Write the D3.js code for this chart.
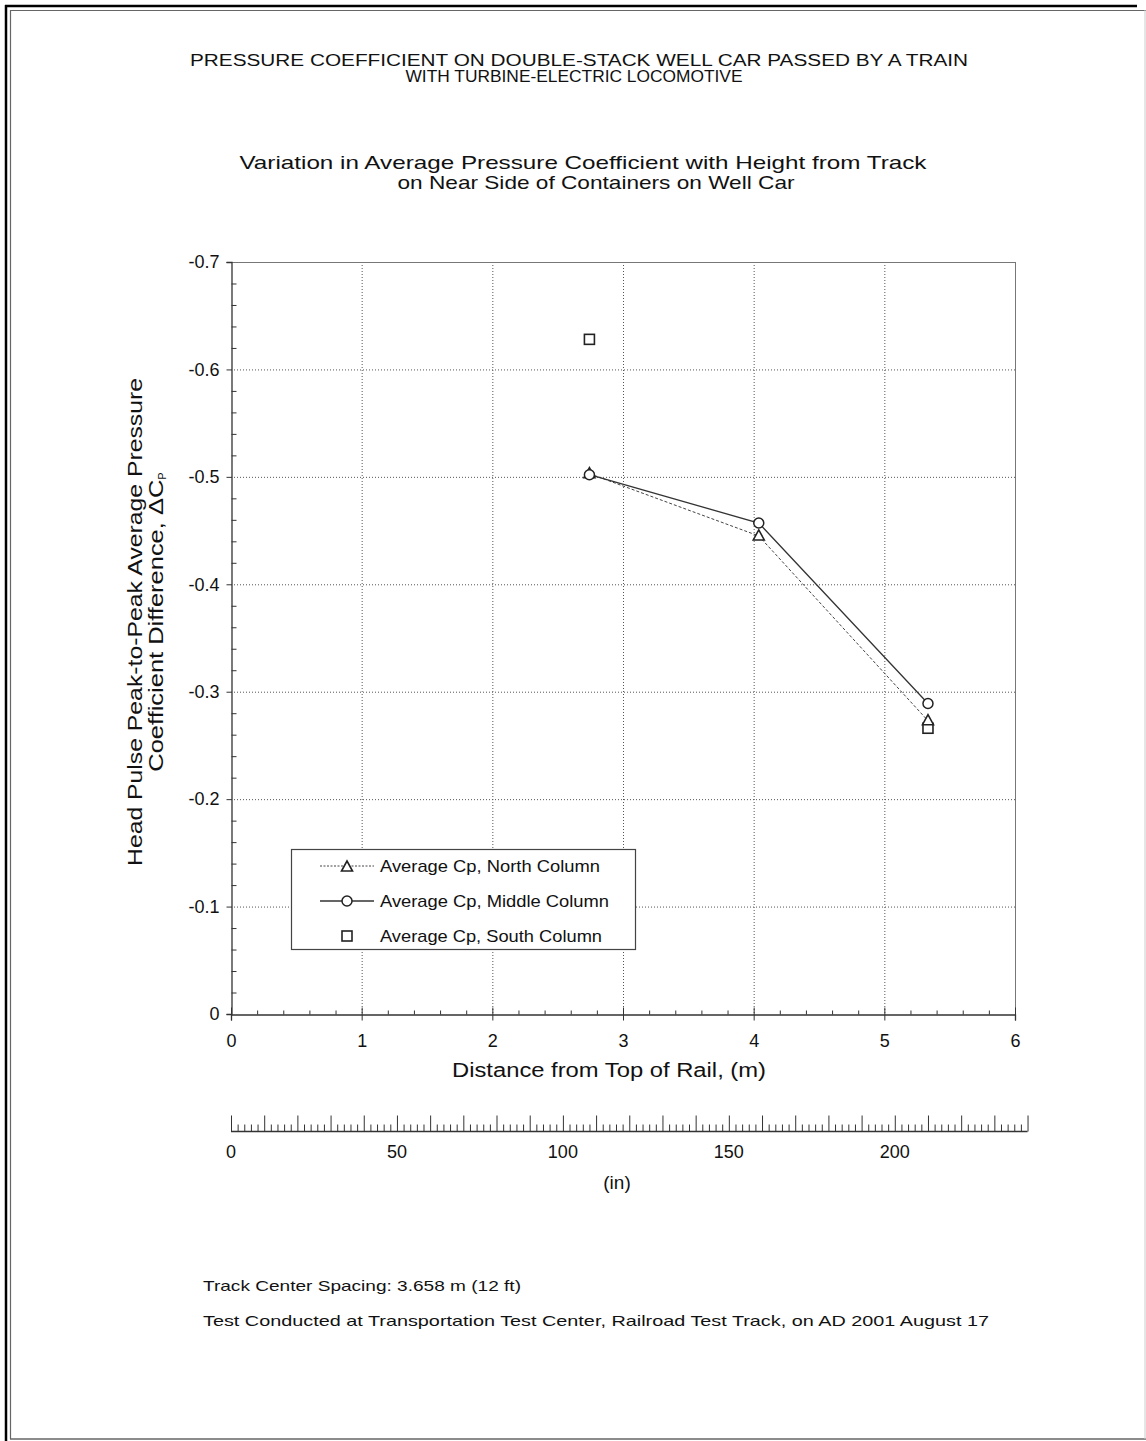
<!DOCTYPE html>
<html>
<head>
<meta charset="utf-8">
<script src="https://cdn.jsdelivr.net/npm/d3@7"></script>
<style>
  html, body { margin: 0; padding: 0; background: #fff; }
  svg { display: block; }
  text { font-family: Arial, "Liberation Sans", Helvetica, sans-serif; fill: #111; }
</style>
</head>
<body>
<svg id="chart" width="1146" height="1441"></svg>
<script>
// Heights of the measurement rows above top of rail (m)
const heights = [2.743, 4.039, 5.334];
// Average head-pulse peak-to-peak pressure coefficient difference per column
const northCp  = [-0.503, -0.445, -0.273];
const middleCp = [-0.502, -0.457, -0.289];
const southHeights = [2.743, 5.334];
const southCp  = [-0.628, -0.266];

const yTicks = [0, -0.1, -0.2, -0.3, -0.4, -0.5, -0.6, -0.7];
const xTicks = [0, 1, 2, 3, 4, 5, 6];
const inchLabels = [0, 50, 100, 150, 200];

const legendLabels = ["Average Cp, North Column", "Average Cp, Middle Column", "Average Cp, South Column"];
const legendWidths = [220, 229, 222];

const svg = d3.select("#chart");

// ---- page frame ----
const frame = svg.append("g");
frame.append("line").attr("x1", 5).attr("x2", 1137).attr("y1", 6).attr("y2", 6).attr("stroke", "#000").attr("stroke-width", 2.5);
frame.append("line").attr("x1", 6).attr("x2", 6).attr("y1", 5).attr("y2", 1441).attr("stroke", "#000").attr("stroke-width", 2.5);
frame.append("line").attr("x1", 10).attr("x2", 1146).attr("y1", 10.5).attr("y2", 10.5).attr("stroke", "#666").attr("stroke-width", 1.2);
frame.append("line").attr("x1", 10.5).attr("x2", 10.5).attr("y1", 10).attr("y2", 1439).attr("stroke", "#666").attr("stroke-width", 1.2);
frame.append("line").attr("x1", 10).attr("x2", 1146).attr("y1", 1439).attr("y2", 1439).attr("stroke", "#666").attr("stroke-width", 1.5);
frame.append("line").attr("x1", 1145).attr("x2", 1145).attr("y1", 10).attr("y2", 1439).attr("stroke", "#ccc").attr("stroke-width", 1);

// ---- titles ----
function fitText(g, str, x, y, size, len, anchor) {
  return g.append("text").attr("x", x).attr("y", y).attr("font-size", size)
    .attr("text-anchor", anchor || "middle")
    .attr("textLength", len).attr("lengthAdjust", "spacingAndGlyphs").text(str);
}
const titles = svg.append("g");
fitText(titles, "PRESSURE COEFFICIENT ON DOUBLE-STACK WELL CAR PASSED BY A TRAIN", 579, 66, 16, 778);
fitText(titles, "WITH TURBINE-ELECTRIC LOCOMOTIVE", 574, 82, 16, 337);
fitText(titles, "Variation in Average Pressure Coefficient with Height from Track", 583, 169, 19, 687);
fitText(titles, "on Near Side of Containers on Well Car", 596, 189, 19, 397);

// ---- scales ----
const x = d3.scaleLinear().domain([0, 6]).range([231, 1015]);
const y = d3.scaleLinear().domain([0, -0.7]).range([1014, 262]);
// inches share the metre scale: 1 in = 0.0254 m
const xIn = d3.scaleLinear().domain([0, 240]).range([x(0), x(240 * 0.0254)]);

const fmtY = d => d === 0 ? "0" : "-" + d3.format(".1f")(Math.abs(d));

// ---- grid ----
const grid = svg.append("g").attr("stroke", "#555").attr("stroke-width", 1).attr("stroke-dasharray", "1,2");
grid.selectAll("line.v").data(xTicks.filter(t => t > 0 && t < 6)).join("line")
  .attr("x1", d => x(d) + 0.5).attr("x2", d => x(d) + 0.5).attr("y1", y(-0.7)).attr("y2", y(0));
grid.selectAll("line.h").data(yTicks.filter(t => t < 0 && t > -0.7)).join("line")
  .attr("x1", x(0)).attr("x2", x(6)).attr("y1", d => y(d) + 0.5).attr("y2", d => y(d) + 0.5);

// frame lines on top and right
svg.append("line").attr("x1", x(0)).attr("x2", x(6)).attr("y1", y(-0.7) + 0.5).attr("y2", y(-0.7) + 0.5).attr("stroke", "#777");
svg.append("line").attr("x1", x(6) + 0.5).attr("x2", x(6) + 0.5).attr("y1", y(-0.7)).attr("y2", y(0)).attr("stroke", "#777");

// ---- y axis ----
const yMinor = d3.range(0, 36).map(i => -i * 0.02).filter(v => Math.round(v * 100) % 10 !== 0);
const yAxisG = svg.append("g").attr("transform", `translate(${x(0) + 0.5},0)`)
  .call(d3.axisLeft(y).tickValues(yTicks).tickFormat(fmtY).tickSize(5).tickPadding(7));
yAxisG.select(".domain").attr("stroke", "#333").attr("stroke-width", 1.3);
yAxisG.selectAll(".tick line").attr("stroke", "#333");
yAxisG.selectAll(".tick text").attr("font-size", 18).attr("font-family", "Arial, 'Liberation Sans', sans-serif").attr("fill", "#111");
svg.append("g").attr("transform", `translate(${x(0) + 0.5},0)`)
  .call(d3.axisRight(y).tickValues(yMinor).tickFormat("").tickSize(5))
  .call(g => g.select(".domain").remove())
  .selectAll(".tick line").attr("stroke", "#333");

// ---- x axis (m) ----
const xMinor = d3.range(0, 31).map(i => i * 0.2).filter(v => Math.abs(v - Math.round(v)) > 1e-6);
const xAxisG = svg.append("g").attr("transform", `translate(0,${y(0) + 0.5})`)
  .call(d3.axisBottom(x).tickValues(xTicks).tickFormat(d3.format("d")).tickSize(6).tickPadding(14));
xAxisG.select(".domain").attr("stroke", "#333").attr("stroke-width", 1.3);
xAxisG.selectAll(".tick line").attr("stroke", "#333").attr("y1", -7);
xAxisG.selectAll(".tick text").attr("font-size", 18).attr("font-family", "Arial, 'Liberation Sans', sans-serif").attr("fill", "#111");
svg.append("g").attr("transform", `translate(0,${y(0) + 0.5})`)
  .call(d3.axisTop(x).tickValues(xMinor).tickFormat("").tickSize(4))
  .call(g => g.select(".domain").remove())
  .selectAll(".tick line").attr("stroke", "#333");

fitText(svg, "Distance from Top of Rail, (m)", 609, 1077, 20, 314);

// ---- secondary axis (in) ----
const inMinor = d3.range(0, 241, 2).filter(v => v % 10 !== 0);
const inMajor = d3.range(0, 241, 10);
const inY = 1131.5;
svg.append("g").attr("transform", `translate(0,${inY})`)
  .call(d3.axisTop(xIn).tickValues(inMajor).tickFormat("").tickSize(16))
  .call(g => g.select(".domain").attr("stroke", "#333").attr("stroke-width", 1.3).attr("d", `M${xIn(0)},0H${xIn(240)}`))
  .selectAll(".tick line").attr("stroke", "#333");
svg.append("g").attr("transform", `translate(0,${inY})`)
  .call(d3.axisTop(xIn).tickValues(inMinor).tickFormat("").tickSize(7))
  .call(g => g.select(".domain").remove())
  .selectAll(".tick line").attr("stroke", "#333");
svg.append("g").selectAll("text").data(inchLabels).join("text")
  .attr("x", d => xIn(d)).attr("y", 1158).attr("text-anchor", "middle").attr("font-size", 18).text(d => d);
svg.append("text").attr("x", 617).attr("y", 1189).attr("text-anchor", "middle").attr("font-size", 19).text("(in)");

// ---- y axis title ----
const yTitle = svg.append("g").attr("transform", "translate(0,622) rotate(-90)");
yTitle.append("text").attr("x", 0).attr("y", 142).attr("text-anchor", "middle").attr("font-size", 20)
  .attr("textLength", 488).attr("lengthAdjust", "spacingAndGlyphs")
  .text("Head Pulse Peak-to-Peak Average Pressure");
const t2 = yTitle.append("text").attr("x", 0).attr("y", 163).attr("text-anchor", "middle").attr("font-size", 20);
t2.append("tspan").attr("textLength", 292).attr("lengthAdjust", "spacingAndGlyphs").text("Coefficient Difference, \u0394C");
t2.append("tspan").attr("font-size", 11).attr("dy", 3).text("P");

// ---- series ----
const lineGen = d3.line().x(d => x(d[0])).y(d => y(d[1]));
const north = heights.map((h, i) => [h, northCp[i]]);
const middle = heights.map((h, i) => [h, middleCp[i]]);
const south = southHeights.map((h, i) => [h, southCp[i]]);

svg.append("path").datum(north).attr("d", lineGen).attr("fill", "none")
  .attr("stroke", "#444").attr("stroke-width", 1).attr("stroke-dasharray", "3,2");
svg.append("path").datum(middle).attr("d", lineGen).attr("fill", "none")
  .attr("stroke", "#333").attr("stroke-width", 1.3);

function drawTriangle(g, cx, cy) {
  g.append("path").attr("d", "M0,-6L5.5,4H-5.5Z").attr("transform", `translate(${cx},${cy})`)
    .attr("fill", "#fff").attr("stroke", "#222").attr("stroke-width", 1.6);
}
function drawCircle(g, cx, cy) {
  g.append("circle").attr("cx", cx).attr("cy", cy).attr("r", 5)
    .attr("fill", "#fff").attr("stroke", "#222").attr("stroke-width", 1.5);
}
function drawSquare(g, cx, cy) {
  g.append("rect").attr("x", cx - 5).attr("y", cy - 5).attr("width", 10).attr("height", 10)
    .attr("fill", "#fff").attr("stroke", "#222").attr("stroke-width", 1.6);
}
const marks = svg.append("g");
south.forEach(d => drawSquare(marks, x(d[0]), y(d[1])));
north.forEach(d => drawTriangle(marks, x(d[0]), y(d[1])));
middle.forEach(d => drawCircle(marks, x(d[0]), y(d[1])));

// ---- legend ----
const lg = svg.append("g");
lg.append("rect").attr("x", 291.5).attr("y", 849.5).attr("width", 344).attr("height", 100)
  .attr("fill", "#fff").attr("stroke", "#444").attr("stroke-width", 1.2);
const rows = [866, 901, 936];
lg.append("line").attr("x1", 320).attr("x2", 374).attr("y1", rows[0]).attr("y2", rows[0])
  .attr("stroke", "#444").attr("stroke-dasharray", "2,1.5");
drawTriangle(lg, 347, rows[0] + 1);
lg.append("line").attr("x1", 320).attr("x2", 374).attr("y1", rows[1]).attr("y2", rows[1])
  .attr("stroke", "#333").attr("stroke-width", 1.3);
drawCircle(lg, 347, rows[1]);
drawSquare(lg, 347, rows[2]);
lg.selectAll("text.lab").data(legendLabels).join("text")
  .attr("x", 380).attr("y", (d, i) => rows[i] + 6).attr("font-size", 17)
  .attr("textLength", (d, i) => legendWidths[i]).attr("lengthAdjust", "spacingAndGlyphs")
  .text(d => d);

// ---- notes ----
svg.append("text").attr("x", 203).attr("y", 1291).attr("font-size", 15)
  .attr("textLength", 318).attr("lengthAdjust", "spacingAndGlyphs").text("Track Center Spacing: 3.658 m (12 ft)");
svg.append("text").attr("x", 203).attr("y", 1326).attr("font-size", 15)
  .attr("textLength", 786).attr("lengthAdjust", "spacingAndGlyphs")
  .text("Test Conducted at Transportation Test Center, Railroad Test Track, on AD 2001 August 17");
</script>
</body>
</html>
